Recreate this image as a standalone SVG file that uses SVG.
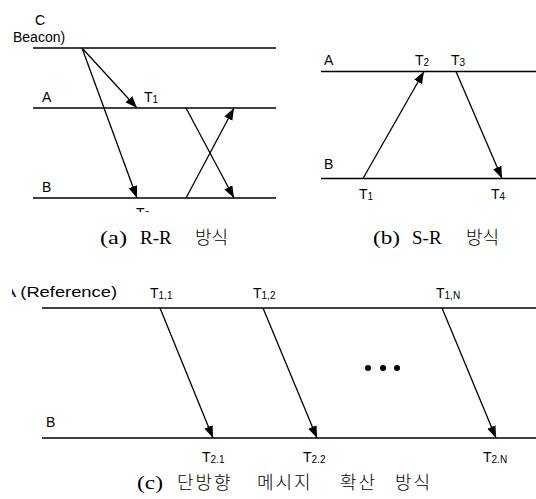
<svg xmlns="http://www.w3.org/2000/svg" width="536" height="499" viewBox="0 0 536 499">
<style>
.tl{stroke:#000;stroke-width:1.6;fill:none}
.ar{stroke:#000;stroke-width:1.3;fill:none;marker-end:url(#ah)}
.lb{font-family:"Liberation Sans","DejaVu Sans",sans-serif;font-size:14px;fill:#000}
.sb{font-size:10px}
.cap{font-family:"Liberation Serif","Times New Roman",serif;font-size:19px;fill:#000}
.kr{font-family:"Noto Sans CJK KR","Noto Sans CJK SC",sans-serif;font-size:18px;font-weight:300;fill:#000}
</style>
<defs>
<marker id="ah" markerUnits="userSpaceOnUse" markerWidth="12" markerHeight="10" refX="12" refY="4.5" orient="auto">
<path d="M0,0 L12,4.5 L0,9 z" fill="#000"/>
</marker>
<clipPath id="clipA"><rect x="0" y="0" width="536" height="212"/></clipPath>
<clipPath id="clipC"><rect x="0" y="0" width="536" height="463"/></clipPath>
<clipPath id="clipRef"><rect x="12" y="270" width="200" height="40"/></clipPath>
</defs>
<rect width="536" height="499" fill="#fff"/>

<!-- (a) R-R -->
<g id="panel-a">
<g id="a-C"><line class="tl" x1="33" y1="48" x2="276" y2="48"/>
<text class="lb" x="35" y="25">C</text><text class="lb" x="13" y="42">Beacon)</text></g>
<g id="a-A"><line class="tl" x1="33" y1="108" x2="276" y2="108"/>
<text class="lb" x="42" y="102">A</text><text class="lb" x="144" y="102">T<tspan class="sb" dy="1">1</tspan></text></g>
<g id="a-B"><line class="tl" x1="33" y1="198" x2="276" y2="198"/>
<text class="lb" x="42" y="192">B</text>
<text class="lb" x="136" y="218" clip-path="url(#clipA)">T<tspan class="sb" dy="1">2</tspan></text></g>
<g id="a-connectors">
<line class="ar" x1="82" y1="48" x2="137" y2="108"/>
<line class="ar" x1="82" y1="48" x2="137" y2="198"/>
<line class="ar" x1="186" y1="108" x2="234" y2="198"/>
<line class="ar" x1="186" y1="198" x2="234" y2="108"/>
</g>
<g id="a-caption">
<text class="cap" x="100" y="244"><tspan textLength="27" lengthAdjust="spacingAndGlyphs">(a)</tspan><tspan x="140">R-R</tspan></text>
<text class="kr" x="195" y="244">방식</text>
</g>
</g>

<!-- (b) S-R -->
<g id="panel-b">
<g id="b-A"><line class="tl" x1="321" y1="71.5" x2="536" y2="71.5"/>
<text class="lb" x="324" y="65">A</text>
<text class="lb" x="415" y="65">T<tspan class="sb" dy="1">2</tspan></text>
<text class="lb" x="451" y="65">T<tspan class="sb" dy="1">3</tspan></text></g>
<g id="b-B"><line class="tl" x1="321" y1="178.5" x2="536" y2="178.5"/>
<text class="lb" x="324" y="169">B</text>
<text class="lb" x="359" y="199">T<tspan class="sb" dy="1">1</tspan></text>
<text class="lb" x="491" y="199">T<tspan class="sb" dy="1">4</tspan></text></g>
<g id="b-connectors">
<line class="ar" x1="363" y1="178.5" x2="424" y2="71.5"/>
<line class="ar" x1="456" y1="71.5" x2="502" y2="178.5"/>
</g>
<g id="b-caption">
<text class="cap" x="373" y="244"><tspan textLength="27" lengthAdjust="spacingAndGlyphs">(b)</tspan><tspan x="412">S-R</tspan></text>
<text class="kr" x="466" y="244">방식</text>
</g>
</g>

<!-- (c) one-way -->
<g id="panel-c">
<g id="c-A"><line class="tl" x1="42" y1="308" x2="536" y2="308"/>
<text class="lb" x="4" y="297" textLength="113" lengthAdjust="spacingAndGlyphs" clip-path="url(#clipRef)">A (Reference)</text>
<text class="lb" x="150" y="298">T<tspan class="sb" dy="1">1,1</tspan></text>
<text class="lb" x="253" y="298">T<tspan class="sb" dy="1">1,2</tspan></text>
<text class="lb" x="436" y="298">T<tspan class="sb" dy="1">1,N</tspan></text></g>
<g id="c-B"><line class="tl" x1="42" y1="438" x2="536" y2="438"/>
<text class="lb" x="46" y="427">B</text>
<g clip-path="url(#clipC)">
<text class="lb" x="202" y="462">T<tspan class="sb" dy="1">2,1</tspan></text>
<text class="lb" x="303" y="462">T<tspan class="sb" dy="1">2,2</tspan></text>
<text class="lb" x="483" y="462">T<tspan class="sb" dy="1">2,N</tspan></text>
</g></g>
<g id="c-connectors">
<line class="ar" x1="160" y1="308" x2="213" y2="438"/>
<line class="ar" x1="263" y1="308" x2="317" y2="438"/>
<line class="ar" x1="442" y1="308" x2="496" y2="438"/>
</g>
<g id="c-dots" fill="#000"><circle cx="368" cy="368" r="3"/><circle cx="383" cy="368" r="3"/><circle cx="397" cy="368" r="3"/></g>
<g id="c-caption">
<text class="cap" x="137" y="489" textLength="26" lengthAdjust="spacingAndGlyphs">(c)</text>
<text class="kr" y="489" letter-spacing="2"><tspan x="177">단방향</tspan><tspan x="257">메시지</tspan><tspan x="340">확산</tspan><tspan x="395">방식</tspan></text>
</g>
</g>
</svg>
